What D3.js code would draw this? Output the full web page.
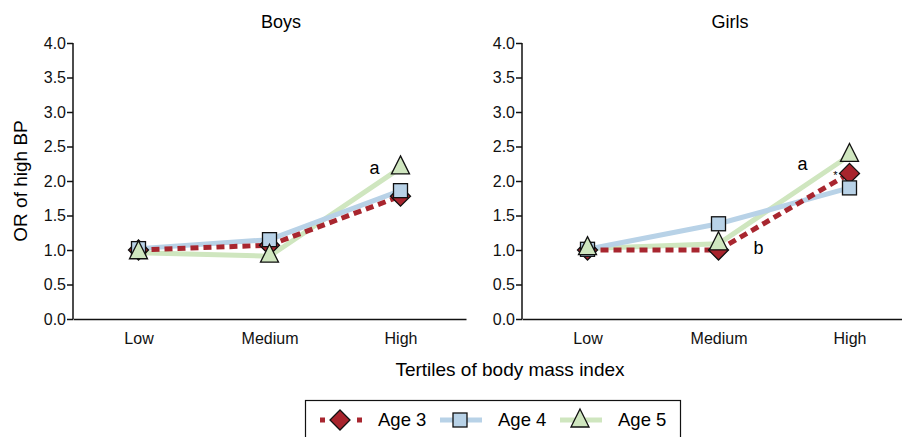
<!DOCTYPE html>
<html>
<head>
<meta charset="utf-8">
<script src="https://cdn.jsdelivr.net/npm/d3@7"></script>
<style>
  body { margin: 0; background: #fff; }
  svg { display: block; font-family: "Liberation Sans", Arial, sans-serif; }
  .axis text { font-size: 16px; fill: #111; }
  .axis path, .axis line { stroke: #111; stroke-width: 1.5px; }
</style>
</head>
<body>
<div id="chart"></div>
<script>
// カテゴリ（BMI三分位）
const tertiles = ["Low", "Medium", "High"];
const yTicks = [0, 0.5, 1, 1.5, 2, 2.5, 3, 3.5, 4];
const ages = ["Age 3", "Age 4", "Age 5"];

// 男子
const boysAge3 = [1.00, 1.07, 1.78];
const boysAge4 = [1.02, 1.15, 1.86];
const boysAge5 = [0.96, 0.91, 2.19];
// 女子
const girlsAge3 = [1.00, 1.00, 2.11];
const girlsAge4 = [1.01, 1.38, 1.90];
const girlsAge5 = [1.02, 1.09, 2.37];

// 注記
const boysNotes = [{ text: "a", cat: "High", v: 2.19, dx: -26, dy: 6 }];
const girlsNotes = [
  { text: "a", cat: "High", v: 2.25, dx: -47, dy: 6 },
  { text: "b", cat: "Medium", v: 1.0, dx: 40, dy: 4 },
  { text: "*", cat: "High", v: 2.11, dx: -14, dy: 6, size: 11 }
];

const W = 902, H = 437;
const svg = d3.select("#chart").append("svg")
  .attr("width", W).attr("height", H);

const styles = {
  "Age 3": { stroke: "#a8262f", dash: "8,5", fill: "#a8242d", shape: "diamond" },
  "Age 4": { stroke: "#b8d2e7", dash: null, fill: "#b8d2e7", shape: "square" },
  "Age 5": { stroke: "#cfe6bf", dash: null, fill: "#cfe6bf", shape: "triangle" }
};

function marker(g, shape, x, y) {
  if (shape === "diamond") {
    g.append("path")
      .attr("d", `M${x},${y - 10}L${x + 10},${y}L${x},${y + 10}L${x - 10},${y}Z`);
  } else if (shape === "square") {
    g.append("rect").attr("x", x - 7).attr("y", y - 7).attr("width", 14).attr("height", 14);
  } else {
    g.append("path")
      .attr("d", `M${x},${y - 12}L${x + 9},${y + 6}L${x - 9},${y + 6}Z`);
  }
}

function panel(x0, title, series, notes) {
  const top = 43, bottom = 319;
  const x = d3.scalePoint().domain(tertiles).range([x0, x0 + 393]).padding(0.5);
  const y = d3.scaleLinear().domain([0, 4]).range([bottom, top]);

  const g = svg.append("g");

  g.append("g").attr("class", "axis")
    .attr("transform", `translate(0,${bottom})`)
    .call(d3.axisBottom(x).tickSize(0).tickPadding(14))
    .call(a => a.selectAll("text").style("font-size", "16px"));

  g.append("g").attr("class", "axis")
    .attr("transform", `translate(${x0},0)`)
    .call(d3.axisLeft(y).tickValues(yTicks).tickSize(6).tickPadding(1).tickFormat(d3.format(".1f")))
    .call(a => a.select(".domain").attr("d", `M0,${y(4)}V${bottom}`));

  g.append("text")
    .attr("x", x0 + 208).attr("y", 28)
    .attr("text-anchor", "middle").style("font-size", "18px")
    .text(title);

  const line = d3.line().x((d, i) => x(tertiles[i])).y(d => y(d));

  // 線（緑→青→赤）
  ["Age 5", "Age 4", "Age 3"].forEach(k => {
    const s = styles[k];
    g.append("path")
      .datum(series[k])
      .attr("d", line)
      .attr("fill", "none")
      .attr("stroke", s.stroke)
      .attr("stroke-width", 5)
      .attr("stroke-dasharray", s.dash);
  });

  // マーカー
  ["Age 3", "Age 4", "Age 5"].forEach(k => {
    const s = styles[k];
    const mg = g.append("g").attr("fill", s.fill).attr("stroke", "#111").attr("stroke-width", 1.3);
    series[k].forEach((v, i) => marker(mg, s.shape, x(tertiles[i]), y(v)));
  });

  notes.forEach(n => {
    g.append("text")
      .attr("x", x(n.cat) + n.dx).attr("y", y(n.v) + n.dy)
      .attr("text-anchor", "middle")
      .style("font-size", (n.size || 18) + "px")
      .text(n.text);
  });
}

panel(73, "Boys", { "Age 3": boysAge3, "Age 4": boysAge4, "Age 5": boysAge5 }, boysNotes);
panel(522, "Girls", { "Age 3": girlsAge3, "Age 4": girlsAge4, "Age 5": girlsAge5 }, girlsNotes);

// 軸ラベル
svg.append("text")
  .attr("transform", "translate(27,181) rotate(-90)")
  .attr("text-anchor", "middle").style("font-size", "19px")
  .text("OR of high BP");

svg.append("text")
  .attr("x", 510).attr("y", 376)
  .attr("text-anchor", "middle").style("font-size", "19px")
  .text("Tertiles of body mass index");

// 凡例
const legend = svg.append("g");
legend.append("rect")
  .attr("x", 305.5).attr("y", 400.5).attr("width", 375).attr("height", 45)
  .attr("fill", "#fff").attr("stroke", "#111").attr("stroke-width", 1.2);

const legX = d3.scaleOrdinal().domain(ages).range([340, 460, 580]);
ages.forEach(k => {
  const s = styles[k];
  const cx = legX(k), cy = 420;
  legend.append("line")
    .attr("x1", cx - 20).attr("x2", cx + 22).attr("y1", cy).attr("y2", cy)
    .attr("stroke", s.stroke).attr("stroke-width", 5)
    .attr("stroke-dasharray", s.dash ? "5,32" : null);
  const mg = legend.append("g").attr("fill", s.fill).attr("stroke", "#111").attr("stroke-width", 1.3);
  marker(mg, s.shape, cx, cy + (s.shape === "triangle" ? 1 : 0));
  legend.append("text")
    .attr("x", cx + 38).attr("y", cy + 6)
    .style("font-size", "18.5px")
    .text(k);
});
</script>
</body>
</html>
